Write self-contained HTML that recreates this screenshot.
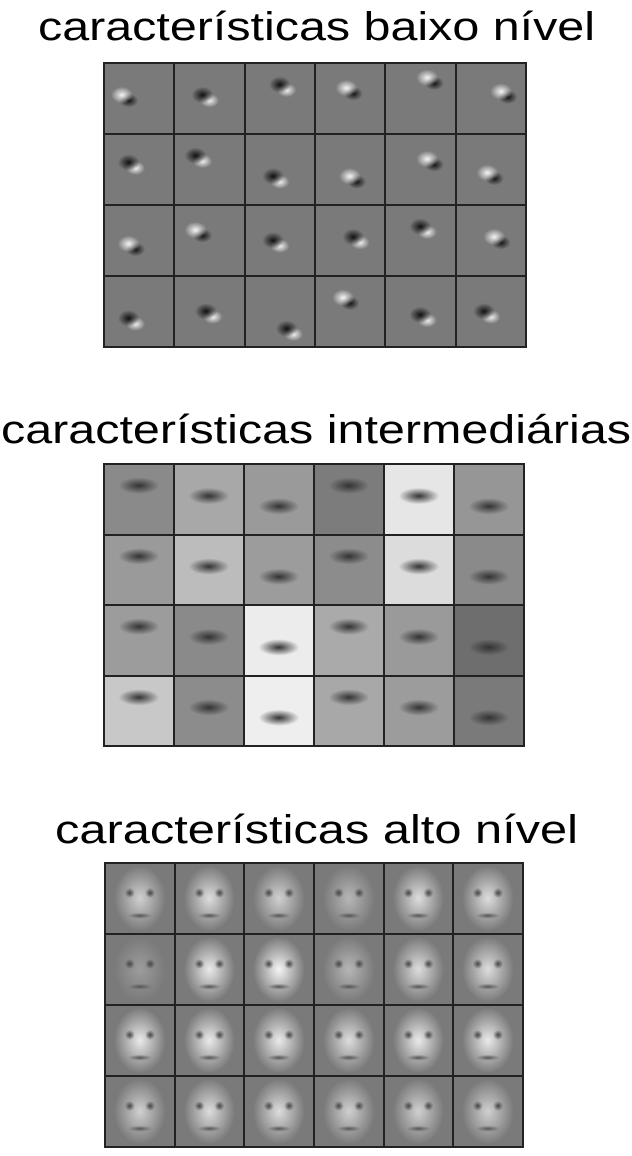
<!DOCTYPE html>
<html><head><meta charset="utf-8">
<style>
html,body{margin:0;padding:0;background:#fff;width:632px;height:1156px;overflow:hidden}
svg{position:absolute;left:0;top:0}
.grid{position:absolute;background:#222;display:grid;grid-template-columns:repeat(6,1fr);grid-template-rows:repeat(4,1fr);gap:2px;padding:2px;box-sizing:border-box}
.cell{position:relative;overflow:hidden}
</style></head><body>
<svg width="632" height="1156">
<text x="38" y="40" font-family="Liberation Sans, sans-serif" font-size="40" textLength="557" lengthAdjust="spacingAndGlyphs">características baixo nível</text>
<text x="1" y="443" font-family="Liberation Sans, sans-serif" font-size="40" textLength="630" lengthAdjust="spacingAndGlyphs">características intermediárias</text>
<text x="55" y="843" font-family="Liberation Sans, sans-serif" font-size="40" textLength="523" lengthAdjust="spacingAndGlyphs">características alto nível</text>
</svg>
<div class="grid" id="g1" style="left:103px;top:62px;width:424px;height:286px"></div>
<div class="grid" id="g2" style="left:103px;top:463px;width:422px;height:284px"></div>
<div class="grid" id="g3" style="left:104px;top:862px;width:420px;height:286px"></div>
<script>
const low=[[25,45,1],[40,45,0],[50,30,0],[45,35,1],[60,20,1],[65,40,1],
[35,40,0],[30,30,0],[40,60,0],[50,60,1],[60,35,1],[45,55,1],
[35,55,1],[30,35,1],[40,50,0],[55,45,0],[50,30,0],[55,45,1],
[35,60,0],[45,50,0],[60,75,0],[40,30,1],[50,55,0],[40,50,0]];
const mid=['#8a8a8a','#a8a8a8','#9a9a9a','#7c7c7c','#e6e6e6','#969696',
'#9a9a9a','#bcbcbc','#9c9c9c','#8c8c8c','#dcdcdc','#8a8a8a',
'#9c9c9c','#8a8a8a','#ececec','#aaaaaa','#9a9a9a','#6e6e6e',
'#c8c8c8','#8c8c8c','#eeeeee','#a8a8a8','#9c9c9c','#7a7a7a'];
const faces=[0.8,0.85,0.8,0.7,0.85,0.85,0.6,0.9,0.95,0.7,0.85,0.85,0.9,0.9,0.9,0.85,0.9,0.9,0.8,0.85,0.85,0.8,0.8,0.8];
const g1=document.getElementById('g1');
low.forEach((d,i)=>{const c=document.createElement('div');c.className='cell';


const a=d[2]?'#f4f4f4':'#111',b=d[2]?'#111':'#f4f4f4';
c.style.background=`radial-gradient(ellipse 16% 12% at ${d[0]}% ${d[1]}%, ${a}, transparent),radial-gradient(ellipse 14% 10% at ${d[0]+10}% ${d[1]+8}%, ${b}, transparent),#7a7a7a`;
g1.appendChild(c);});
const g2=document.getElementById('g2');
mid.forEach((col,i)=>{const c=document.createElement('div');c.className='cell';


c.style.background=`radial-gradient(ellipse 30% 12% at 50% ${30+(i%3)*15}%, #333, transparent),${col}`;
g2.appendChild(c);});
const g3=document.getElementById('g3');
faces.forEach((v,i)=>{const c=document.createElement('div');c.className='cell';


const l=Math.min(245,Math.round(v*260));
c.style.background=`radial-gradient(circle 5px at 35% 42%, #444, transparent),radial-gradient(circle 5px at 65% 42%, #444, transparent),radial-gradient(ellipse 12px 3px at 50% 75%, #555, transparent),radial-gradient(ellipse 40% 50% at 50% 50%, rgb(${l},${l},${l}), #7a7a7a 95%),#7a7a7a`;
g3.appendChild(c);});
</script>
</body></html>
